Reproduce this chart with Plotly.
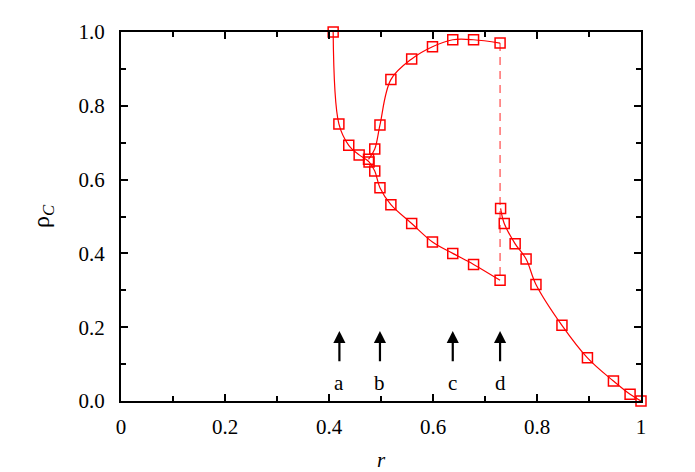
import plotly.graph_objects as go

# descending branch (from r~0.41 down to the fold at d)
r_low = [0.408, 0.419, 0.438, 0.458, 0.477, 0.488, 0.498, 0.519, 0.559, 0.599, 0.638, 0.678, 0.729]
rho_low = [1.000, 0.751, 0.693, 0.667, 0.648, 0.623, 0.578, 0.532, 0.481, 0.431, 0.400, 0.370, 0.327]

# rising branch
r_up = [0.476, 0.488, 0.498, 0.519, 0.559, 0.599, 0.638, 0.678, 0.729]
rho_up = [0.655, 0.683, 0.748, 0.871, 0.927, 0.960, 0.979, 0.979, 0.970]

# right branch
r_right = [0.730, 0.737, 0.758, 0.779, 0.798, 0.848, 0.897, 0.947, 0.979, 1.000]
rho_right = [0.522, 0.481, 0.426, 0.385, 0.316, 0.205, 0.117, 0.054, 0.018, 0.000]

# jump at d
r_jump = [0.729, 0.729]
rho_jump = [0.970, 0.327]

arrow_r = [0.42, 0.498, 0.638, 0.729]
arrow_labels = ["a", "b", "c", "d"]

RED = "rgb(255,0,0)"
FONT = "Liberation Serif, Times New Roman, DejaVu Serif, serif"

fig = go.Figure()

fig.add_trace(go.Scatter(
    x=r_jump, y=rho_jump, mode="lines",
    line=dict(color="rgba(255,60,60,0.75)", width=1.5, dash="8px,6px"),
    showlegend=False,
))

for xs, ys in [(r_low, rho_low), (r_up, rho_up), (r_right, rho_right)]:
    fig.add_trace(go.Scatter(
        x=xs, y=ys, mode="lines+markers",
        line=dict(color=RED, width=1.2, shape="spline", smoothing=1.0),
        marker=dict(symbol="square-open", size=10, color=RED, line=dict(width=1.5, color=RED)),
        cliponaxis=False,
        showlegend=False,
    ))

for xa, lab in zip(arrow_r, arrow_labels):
    fig.add_annotation(
        x=xa, y=0.19, ax=xa, ay=0.085, xref="x", yref="y", axref="x", ayref="y",
        showarrow=True, arrowhead=2, arrowsize=1.1, arrowwidth=2.2, arrowcolor="black",
        text=" ",
    )
    fig.add_annotation(
        x=xa, y=0.048, xref="x", yref="y", text=lab, showarrow=False,
        font=dict(family=FONT, size=21, color="black"),
    )

axis_common = dict(
    showline=True, linecolor="black", linewidth=2, mirror="allticks",
    ticks="inside", ticklen=7, tickwidth=1.5, tickcolor="black",
    showgrid=False, zeroline=False, dtick=0.2,
    minor=dict(dtick=0.1, ticks="inside", ticklen=5, tickwidth=1.5, tickcolor="black", showgrid=False),
    tickfont=dict(family=FONT, size=21, color="black"),
)

fig.update_xaxes(
    range=[0, 1], tickvals=[0, 0.2, 0.4, 0.6, 0.8, 1], ticktext=["0", "0.2", "0.4", "0.6", "0.8", "1"],
    ticklabelstandoff=6,
    title=dict(text="<i>r</i>", font=dict(family=FONT, size=21, color="black"), standoff=14),
    **axis_common,
)
fig.update_yaxes(
    range=[0, 1], tickformat=".1f", ticklabelstandoff=10,
    title=dict(text="ρ<sub><i>C</i></sub>", font=dict(family=FONT, size=24, color="black"), standoff=22),
    **axis_common,
)

# the page adds an 8px body margin, so the margins are shifted to compensate
fig.update_layout(
    width=695, height=472,
    margin=dict(l=113, r=62, t=17, b=79),
    plot_bgcolor="white", paper_bgcolor="white",
    font=dict(family=FONT, color="black"),
)

fig.write_html("out.html")
